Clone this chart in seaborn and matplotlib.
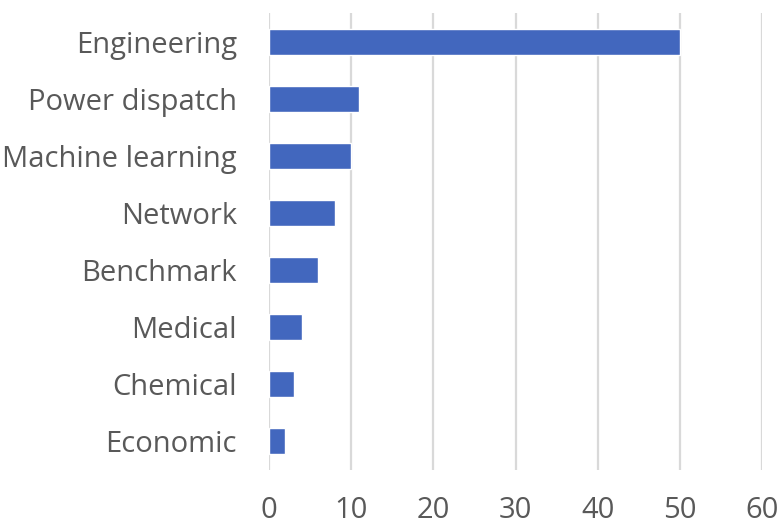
import matplotlib
matplotlib.use("Agg")
import matplotlib.pyplot as plt
import seaborn as sns
import pandas as pd

categories = ["Engineering", "Power dispatch", "Machine learning", "Network",
              "Benchmark", "Medical", "Chemical", "Economic"]
counts = [50, 11, 10, 8, 6, 4, 3, 2]
x_ticks = [0, 10, 20, 30, 40, 50, 60]

df = pd.DataFrame({"category": categories, "count": counts})

sns.set_theme(style="white")
plt.rcParams["font.family"] = ["Open Sans", "DejaVu Sans"]

fig = plt.figure(figsize=(7.78, 5.26), dpi=100)
ax = fig.add_axes([0.3458, 0.1065, 0.6337, 0.8688])

sns.barplot(data=df, x="count", y="category", orient="h", color="#4267BE",
            width=0.455, saturation=1, ax=ax)

ax.set_xlim(0, 60)
ax.set_xticks(x_ticks)
ax.set_xlabel("")
ax.set_ylabel("")
ax.xaxis.grid(True, color="#D9D9D9", linewidth=1.6)
ax.set_axisbelow(True)
for s in ax.spines.values():
    s.set_visible(False)
ax.tick_params(axis="both", length=0, labelsize=21, labelcolor="#595959")
ax.tick_params(axis="y", pad=23)
ax.tick_params(axis="x", pad=19)

fig.savefig("out.png", dpi=100)
